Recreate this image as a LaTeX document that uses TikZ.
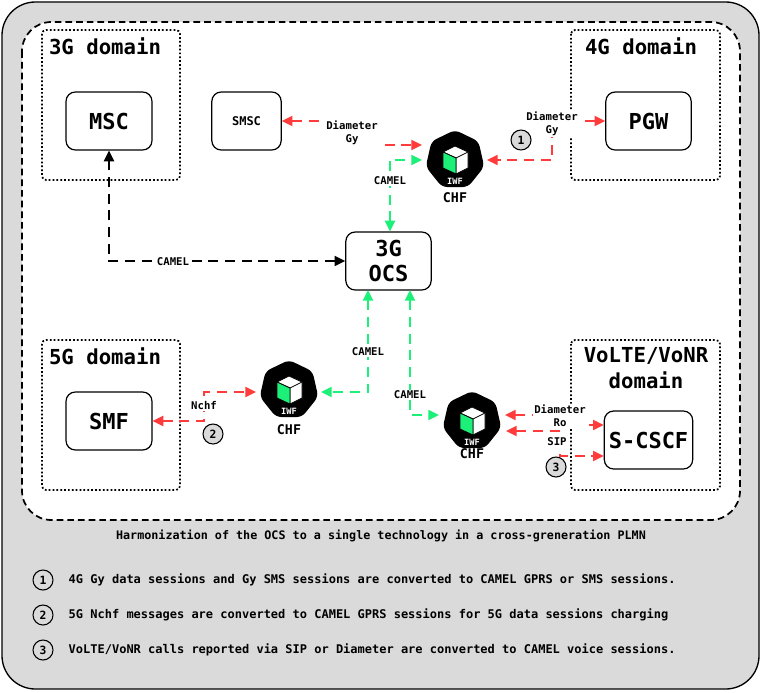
\documentclass[tikz,border=0pt]{standalone}
\usepackage{fontspec}
\setmainfont{DejaVu Sans Mono}
\usetikzlibrary{shapes.geometric,arrows.meta,calc}
\definecolor{bgg}{HTML}{DADADA}
\definecolor{redc}{HTML}{FF3B3B}
\definecolor{grnc}{HTML}{1CF078}
\begin{document}
\begin{tikzpicture}[x=0.75pt,y=-0.75pt,
  dom/.style={draw,line width=1.3pt,dash pattern=on 1.3pt off 1.6pt,rounded corners=3pt},
  box/.style={draw,line width=0.9pt,rounded corners=7pt,fill=white,font=\bfseries\fontsize{16.5}{19}\selectfont,align=center},
  domlbl/.style={font=\bfseries\fontsize{15.5}{19.5}\selectfont,align=center},
  lbl/.style={font=\bfseries\fontsize{8}{10}\selectfont,fill=white,inner sep=1pt,align=center},
  conn/.style={line width=1.5pt,dash pattern=on 7.5pt off 5pt,{Triangle[length=8pt,width=7.5pt]}-{Triangle[length=8pt,width=7.5pt]}},
  blk/.style={conn,black},
  rd/.style={conn,redc},
  gr/.style={conn,grnc},
  num/.style={circle,draw,line width=0.8pt,fill=bgg,minimum size=15pt,inner sep=0pt,font=\bfseries\fontsize{8.5}{9}\selectfont},
  chf/.style={circle,minimum size=44pt,inner sep=0pt},
  hept/.style={fill=black,rounded corners=4pt},
  chflbl/.style={font=\bfseries\fontsize{10}{11}\selectfont},
  legend/.style={font=\bfseries\fontsize{9}{10}\selectfont,anchor=west}
]
\useasboundingbox (0,0) rectangle (762,692);
\path[draw,fill=bgg,line width=1pt,rounded corners=25pt] (2,2) rectangle (759,689);
\path[draw,fill=white,line width=1.3pt,dash pattern=on 5pt off 3pt,rounded corners=22pt] (22,22) rectangle (740,520);
% domains
\draw[dom] (42,30) rectangle (180,180);
\node[domlbl] (d3) at (105,46) {3G domain};
\draw[dom] (571,30) rectangle (720,180);
\node[domlbl] (d4) at (641,46) {4G domain};
\draw[dom] (42,340) rectangle (180,490);
\node[domlbl] (d5) at (105,356) {5G domain};
\draw[dom] (571,340) rectangle (720,490);
\node[domlbl] (dv) at (646,368) {VoLTE/VoNR\\domain};
% boxes
\node[box,minimum width=64.5pt,minimum height=43.5pt] (msc) at (109,121) {MSC};
\node[box,minimum width=52pt,minimum height=43.5pt,font=\bfseries\fontsize{9}{10}\selectfont] (smsc) at (246.5,121) {SMSC};
\node[box,minimum width=64pt,minimum height=43.5pt] (pgw) at (648.5,121) {PGW};
\node[box,minimum width=64pt,minimum height=43.5pt] (ocs) at (388.5,261) {3G\\OCS};
\node[box,minimum width=64.5pt,minimum height=43.5pt] (smf) at (109,421) {SMF};
\node[box,minimum width=64pt,minimum height=43.5pt] (cscf) at (648.5,440) {S-CSCF};
% CHFs
\foreach \n/\x/\y in {chf1/455/160, chf2/289/390, chf3/472/421}{
  \node[chf] (\n) at (\x,\y) {};
  \begin{scope}[shift={(\x,\y)}]
    \path[hept] (-90:30) -- (-38.57:30) -- (12.86:30) -- (64.29:30) -- (115.71:30) -- (167.14:30) -- (218.57:30) -- cycle;
    \draw[line width=0.6pt,fill=white] (0,-14) -- (13,-8) -- (13,8) -- (1,14) -- (1,-2) -- cycle;
    \draw[line width=0.6pt,fill=white] (0,-14) -- (-12,-8) -- (1,-2) -- (13,-8) -- cycle;
    \draw[line width=0.6pt,fill=grnc] (-12,-8) -- (1,-2) -- (1,14) -- (-12,8) -- cycle;
    \node[text=white,font=\bfseries\fontsize{6.5}{7}\selectfont] at (0,21) {IWF};
  \end{scope}
}
\node[chflbl] (c1) at (455,198) {CHF};
\node[chflbl] (c2) at (289,430) {CHF};
\node[chflbl] (c3) at (472,454) {CHF};
% connectors
\draw[blk] (ocs.west) -- (msc.south |- ocs.west) -- (msc.south);
\node[lbl,fill=white] (lc0) at (173,262) {CAMEL};
\draw[rd] (smsc.east) -- (352,121) -- (352,145) -- ($(chf1)+(-33,-15)$);
\node[lbl] (l1) at (352,133) {Diameter\\Gy};
\draw[rd] (pgw.west) -- (552,121) -- (552,160) -- ($(chf1)+(32,0)$);
\node[lbl] (l2) at (552,124) {Diameter\\Gy};
\node[num] (n1) at (521,140) {1};
\draw[gr] (ocs.north -| 390,0) -- (390,160) -- ($(chf1)+(-33,0)$);
\node[lbl] (l3) at (390,181) {CAMEL};
\draw[gr] (368,290) -- (368,392) -- ($(chf2)+(32,2)$);
\node[lbl] (l4) at (368,352) {CAMEL};
\draw[gr] (410,290) -- (410,415) -- ($(chf3)+(-33,-6)$);
\node[lbl] (l5) at (410,395) {CAMEL};
\draw[rd] (smf.east) -- (204,421) -- (204,392) -- ($(chf2)+(-33,2)$);
\node[lbl] (l6) at (204,406) {Nchf};
\node[num] (n2) at (213,434) {2};
\draw[rd] ($(chf3)+(33,-6)$) -- (560,415) -- (560,425) -- (cscf.west |- 0,425);
\node[lbl] (l7) at (560,416) {Diameter\\Ro};
\draw[rd] ($(chf3)+(34,10)$) -- (560,431) -- (560,456) -- (cscf.west |- 0,456);
\node[lbl] (l8) at (557,442) {SIP};
\node[num] (n3) at (556,467) {3};
% captions
\node[font=\bfseries\fontsize{8.8}{10}\selectfont] (title) at (381,536) {Harmonization of the OCS to a single technology in a cross-greneration PLMN};
\node[num] (k1) at (43,580) {1};
\node[legend] (t1) at (64,580) {4G Gy data sessions and Gy SMS sessions are converted to CAMEL GPRS or SMS sessions.};
\node[num] (k2) at (43,615) {2};
\node[legend] (t2) at (64,615) {5G Nchf messages are converted to CAMEL GPRS sessions for 5G data sessions charging};
\node[num] (k3) at (43,650) {3};
\node[legend] (t3) at (64,650) {VoLTE/VoNR calls reported via SIP or Diameter are converted to CAMEL voice sessions.};
\end{tikzpicture}
\end{document}
